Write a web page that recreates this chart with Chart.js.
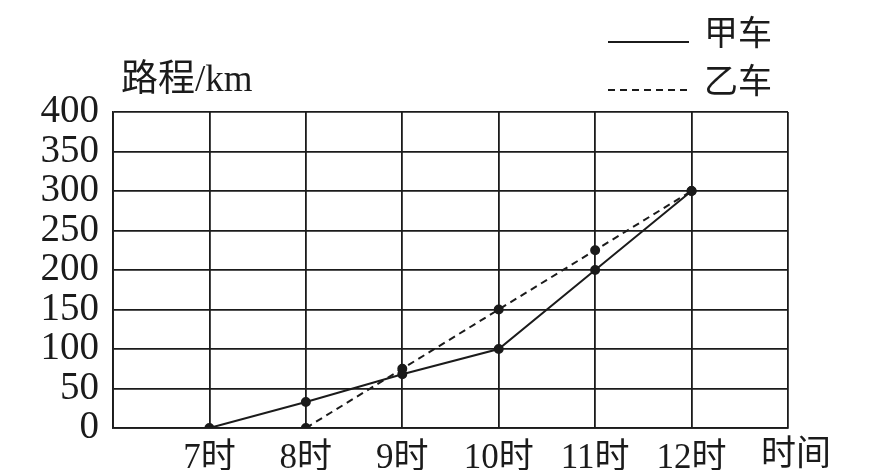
<!DOCTYPE html>
<html>
<head>
<meta charset="utf-8">
<script src="https://cdn.jsdelivr.net/npm/chart.js@4"></script>
<style>
  html, body { margin: 0; padding: 0; background: #fff; }
  #wrap { width: 875px; height: 470px; }
</style>
</head>
<body>
<div id="wrap"><canvas id="chart" width="875" height="470"></canvas></div>
<script>
// 数据
const hours = [7, 8, 9, 10, 11, 12];
const hourLabels = ['7时', '8时', '9时', '10时', '11时', '12时'];
const jiaHours = [7, 8, 9, 10, 11, 12];
const jiaDistance = [0, 33, 68, 100, 200, 300];
const yiHours = [8, 9, 10, 11, 12];
const yiDistance = [0, 75, 150, 225, 300];
const seriesNames = ['甲车', '乙车'];
const yTitle = '路程/km';
const xTitle = '时间';

const ink = '#1b1b1b';
const fontStack = '"Liberation Serif", "Noto Sans CJK SC", serif';

const toPoints = (xs, ys) => xs.map((x, i) => ({ x, y: ys[i] }));

// 自绘标题和图例
const extras = {
    id: 'extras',
    afterDraw(chart) {
        const c = chart.ctx;
        const area = chart.chartArea;
        const xs = chart.scales.x;
        c.save();
        c.fillStyle = ink;
        c.font = '37px ' + fontStack;
        c.textBaseline = 'middle';
        c.textAlign = 'left';
        c.fillText(yTitle, area.left + 8, area.top - 31);
        c.font = '35px ' + fontStack;
        c.textAlign = 'center';
        c.textBaseline = 'top';
        c.fillText(xTitle, xs.getPixelForValue(13) + 8, area.bottom + 10);

        // 图例
        c.font = '34px ' + fontStack;
        const rows = [36, 84];
        chart.data.datasets.forEach((ds, i) => {
            const y = rows[i];
            c.strokeStyle = ds.borderColor;
            c.lineWidth = 2;
            c.setLineDash(ds.borderDash || []);
            c.beginPath();
            c.moveTo(608, y + 6);
            c.lineTo(689, y + 6);
            c.stroke();
            c.setLineDash([]);
            c.textAlign = 'left';
            c.textBaseline = 'middle';
            c.fillText(ds.label, 704, y);
        });
        c.restore();
    }
};

new Chart(document.getElementById('chart'), {
    type: 'line',
    data: {
        datasets: [
            {
                label: seriesNames[0],
                data: toPoints(jiaHours, jiaDistance),
                borderColor: ink,
                backgroundColor: ink,
                borderWidth: 2,
                pointRadius: 4,
                pointBackgroundColor: ink,
                tension: 0
            },
            {
                label: seriesNames[1],
                data: toPoints(yiHours, yiDistance),
                borderColor: ink,
                backgroundColor: ink,
                borderWidth: 2,
                borderDash: [7, 5],
                pointRadius: 4,
                pointBackgroundColor: ink,
                tension: 0
            }
        ]
    },
    options: {
        responsive: false,
        animation: false,
        layout: { padding: { top: 112, right: 87, left: 0, bottom: 0 } },
        plugins: {
            legend: { display: false },
            tooltip: { enabled: false }
        },
        scales: {
            x: {
                type: 'linear',
                min: 6,
                max: 13,
                afterFit: s => { s.height = 42; },
                ticks: {
                    stepSize: 1,
                    autoSkip: false,
                    color: ink,
                    padding: 10,
                    font: { family: fontStack, size: 35 },
                    callback: v => {
                        const i = hours.indexOf(v);
                        return i >= 0 ? hourLabels[i] : '';
                    }
                },
                grid: { color: ink, lineWidth: 1.8, drawTicks: false },
                border: { color: ink, width: 1.8 }
            },
            y: {
                min: 0,
                max: 400,
                afterFit: s => { s.width = 113; },
                ticks: {
                    stepSize: 50,
                    autoSkip: false,
                    color: ink,
                    padding: 14,
                    font: { family: fontStack, size: 39 }
                },
                grid: { color: ink, lineWidth: 1.8, drawTicks: false },
                border: { color: ink, width: 1.8 }
            }
        }
    },
    plugins: [extras]
});
</script>
</body>
</html>
